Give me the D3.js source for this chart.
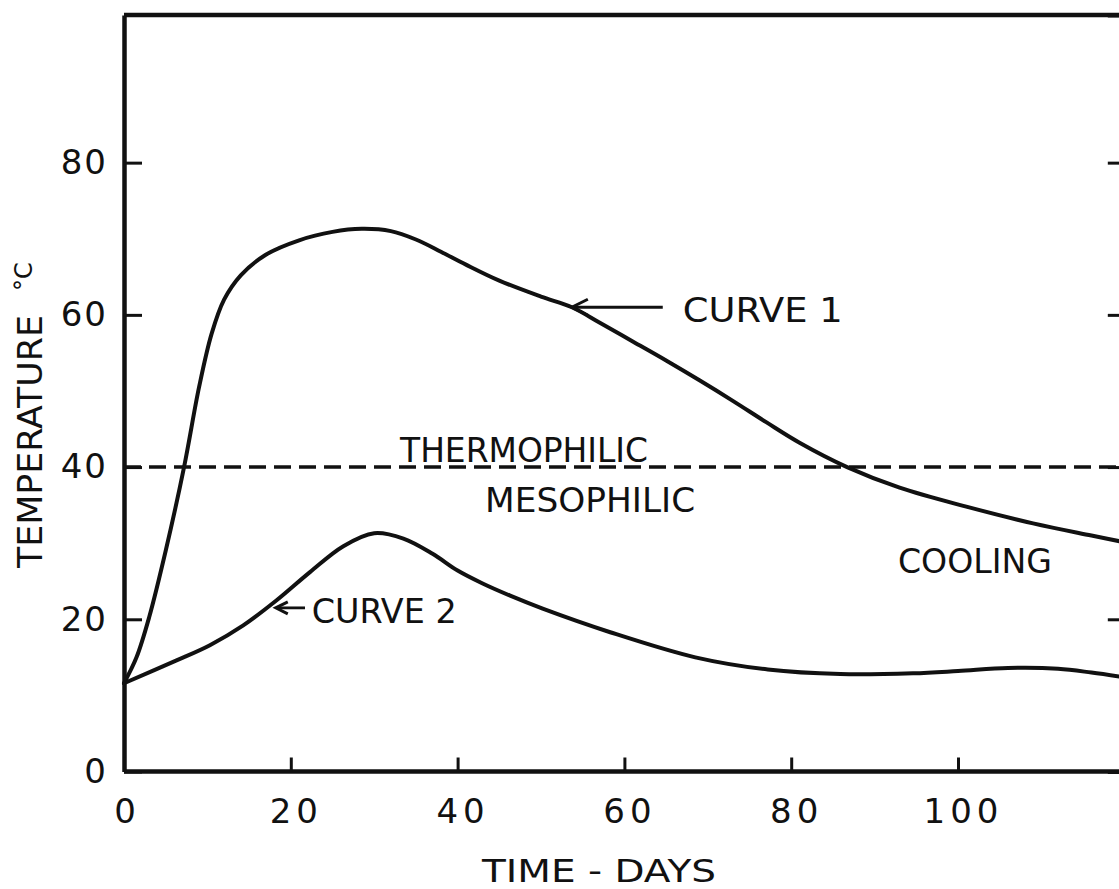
<!DOCTYPE html>
<html>
<head>
<meta charset="utf-8">
<script src="https://cdn.jsdelivr.net/npm/d3@7/dist/d3.min.js"></script>
<style>
  html, body { margin: 0; padding: 0; background: #fff; }
  svg { display: block; }
  text { font-family: "DejaVu Sans", sans-serif; fill: #111; }
</style>
</head>
<body>
<svg id="chart" width="1119" height="889"></svg>
<script>
// ---- data (days, °C) ----
const curve1Days   = [0, 1.5, 3.0, 5.0, 7.2, 9.0, 10.5, 12.0, 14.0, 17.0, 21.0, 25.0, 28.5, 32.0, 35.0, 38.0, 41.0, 45.0, 50.0, 53.7, 57.0, 61.0, 65.0, 69.0, 73.0, 77.0, 81.0, 86.7, 93.0, 101.0, 109.0, 116.0, 121.0];
const curve1Temps  = [11.6, 15.0, 20.2, 29.0, 40.0, 50.5, 57.5, 62.0, 65.2, 67.9, 69.8, 70.9, 71.3, 71.0, 69.9, 68.3, 66.6, 64.5, 62.4, 61.0, 59.0, 56.5, 54.0, 51.4, 48.7, 45.9, 43.2, 40.0, 37.3, 34.8, 32.6, 31.0, 29.9];
const curve2Days   = [0, 6.3, 10.3, 14.3, 18.3, 22.3, 26.3, 30.0, 33.5, 37.0, 40.0, 43.0, 46.3, 50.2, 58.3, 68.5, 77.2, 85.9, 94.6, 100.0, 106.0, 112.0, 116.0, 121.0];
const curve2Temps  = [11.6, 14.6, 16.6, 19.2, 22.5, 26.2, 29.6, 31.3, 30.6, 28.6, 26.4, 24.7, 23.1, 21.4, 18.3, 15.0, 13.4, 12.8, 12.9, 13.2, 13.6, 13.5, 13.0, 12.2];
const xTicks = [0, 20, 40, 60, 80, 100];
const yTicks = [0, 20, 40, 60, 80];
const rightTicks = [20, 40, 60, 80];
const boundaryTemp = 40;   // thermophilic / mesophilic boundary
const xTitle = "TIME - DAYS";
const yTitle = "TEMPERATURE";
const yUnit = "°C";

// ---- scales ----
const svg = d3.select("#chart");
const x = d3.scaleLinear().domain([0, 100]).range([124, 958]);
const y = d3.scaleLinear().domain([0, 99.4]).range([771.5, 15]);
const xMax = 120;

const ink = "#111";

// top frame
svg.append("line")
  .attr("x1", x(0)).attr("x2", x(xMax))
  .attr("y1", y(99.4)).attr("y2", y(99.4))
  .attr("stroke", ink).attr("stroke-width", 4.5);

// right frame with inward ticks
const rightAxis = svg.append("g")
  .attr("transform", `translate(${x(xMax)},0)`)
  .call(d3.axisRight(y).tickValues(rightTicks).tickSize(-17).tickFormat(""));
rightAxis.select(".domain").attr("stroke", ink).attr("stroke-width", 4);
rightAxis.selectAll(".tick line").attr("stroke", ink).attr("stroke-width", 3);

// left axis
const leftAxis = svg.append("g")
  .attr("transform", `translate(${x(0)},0)`)
  .call(d3.axisLeft(y).tickValues(yTicks).tickSize(-18).tickPadding(16).tickSizeOuter(0));
leftAxis.select(".domain").attr("stroke", ink).attr("stroke-width", 4.5);
leftAxis.selectAll(".tick line").attr("stroke", ink).attr("stroke-width", 3);
leftAxis.selectAll(".tick text")
  .style("font-family", "DejaVu Sans, sans-serif")
  .style("font-size", "34px").attr("fill", ink).attr("letter-spacing", 2);

// bottom axis
const bottomAxis = svg.append("g")
  .attr("transform", `translate(0,${y(0)})`)
  .call(d3.axisBottom(x).tickValues(xTicks).tickSize(-14).tickPadding(27).tickSizeOuter(0));
bottomAxis.select(".domain").attr("stroke", ink).attr("stroke-width", 4.5)
  .attr("d", `M${x(0)},0H${x(xMax)}`);
bottomAxis.selectAll(".tick line").attr("stroke", ink).attr("stroke-width", 3);
bottomAxis.selectAll(".tick text")
  .style("font-family", "DejaVu Sans, sans-serif")
  .style("font-size", "34px").attr("fill", ink).attr("letter-spacing", 5)
  .attr("dx", d => d === 0 ? 3 : 5);

// dashed boundary line
svg.append("line")
  .attr("x1", x(0)).attr("x2", x(xMax))
  .attr("y1", y(boundaryTemp)).attr("y2", y(boundaryTemp))
  .attr("stroke", ink).attr("stroke-width", 3.5)
  .attr("stroke-dasharray", "17,8");

// curves
const line = d3.line()
  .x(d => x(d[0])).y(d => y(d[1]))
  .curve(d3.curveCatmullRom.alpha(0.5));
const c1 = curve1Days.map((d, i) => [d, curve1Temps[i]]);
const c2 = curve2Days.map((d, i) => [d, curve2Temps[i]]);
[c1, c2].forEach(c => {
  svg.append("path").datum(c)
    .attr("d", line)
    .attr("fill", "none").attr("stroke", ink).attr("stroke-width", 4)
    .attr("stroke-linejoin", "round").attr("stroke-linecap", "round");
});

// labels
function label(txt, day, temp, width, size) {
  svg.append("text")
    .attr("x", x(day)).attr("y", y(temp))
    .attr("textLength", width).attr("lengthAdjust", "spacingAndGlyphs")
    .style("font-size", (size || 34) + "px")
    .text(txt);
}
label("THERMOPHILIC", 33.1, 40.7, 248);
label("MESOPHILIC", 43.3, 34.1, 210);
label("CURVE 1", 67.0, 59.0, 160);
label("CURVE 2", 22.5, 19.5, 145);
label("COOLING", 92.8, 26.1, 154);

// arrows
function arrow(dayFrom, dayTo, temp, head) {
  const yy = y(temp), xt = x(dayTo), xf = x(dayFrom);
  svg.append("line")
    .attr("x1", xf).attr("x2", xt + 2).attr("y1", yy).attr("y2", yy)
    .attr("stroke", ink).attr("stroke-width", 2.8);
  svg.append("path")
    .attr("d", `M${xt + head},${yy - head * 0.5} L${xt},${yy} L${xt + head},${yy + head * 0.5}`)
    .attr("fill", "none").attr("stroke", ink).attr("stroke-width", 3)
    .attr("stroke-linejoin", "miter");
}
arrow(64.6, 53.7, 61.0, 16);
arrow(21.7, 18.2, 21.5, 12);

// axis titles
svg.append("text")
  .attr("x", 599).attr("y", 882)
  .attr("text-anchor", "middle")
  .attr("textLength", 234).attr("lengthAdjust", "spacingAndGlyphs")
  .style("font-size", "32px")
  .text(xTitle);

const yt = svg.append("text")
  .attr("transform", "translate(42,568) rotate(-90)")
  .style("font-size", "33px");
yt.append("tspan").attr("textLength", 253).attr("lengthAdjust", "spacingAndGlyphs").text(yTitle);
yt.append("tspan").attr("dx", 24).attr("dy", -10).style("font-size", "24px").text(yUnit);
</script>
</body>
</html>
